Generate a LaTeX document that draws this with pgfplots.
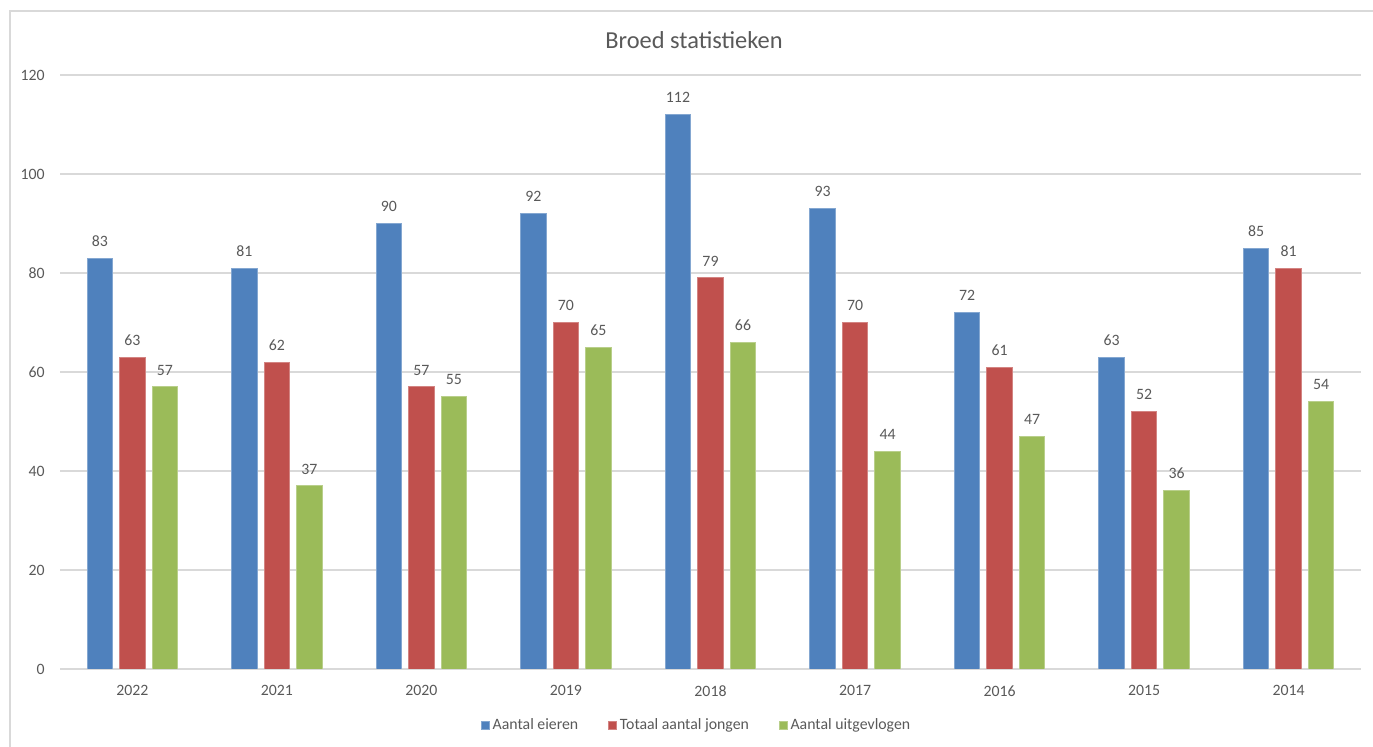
\documentclass[border=0pt]{standalone}
\usepackage{pgfplots}
\pgfplotsset{compat=1.18}
\usepackage{fontspec}
\setmainfont{Carlito}
\definecolor{cblue}{HTML}{4F81BD}
\definecolor{cred}{HTML}{C0504D}
\definecolor{cgreen}{HTML}{9BBB59}
\definecolor{txt}{HTML}{595959}
\definecolor{gridc}{HTML}{D9D9D9}
\pgfplotstableread{
x blue red green
0 83 63 57
1 81 62 37
2 90 57 55
3 92 70 65
4 112 79 66
5 93 70 44
6 72 61 47
7 63 52 36
8 85 81 54
}\datatable
\begin{document}
\begin{tikzpicture}
\path[use as bounding box] (0,0) rectangle (686.5bp,373.5bp);
\draw[gridc, line width=0.75bp] (5bp,-2bp) -- (5bp,368bp) -- (690bp,368bp);
\node[text=txt, font=\fontsize{12.2bp}{14bp}\selectfont] at (347bp,353.5bp) {Broed statistieken};
\begin{axis}[
  at={(30bp,39bp)}, anchor=south west,
  scale only axis, width=650.5bp, height=297bp,
  ybar=3.5bp, bar width=12.75bp,
  xmin=-0.5, xmax=8.5, ymin=0, ymax=120,
  xtick=data, xticklabels={2022,2021,2020,2019,2018,2017,2016,2015,2014},
  ytick={0,20,...,120},
  ymajorgrids, major grid style={gridc, line width=0.6bp},
  axis line style={draw=none},
  tick style={draw=none}, major tick length=0pt,
  ticklabel style={font=\fontsize{7.9bp}{9bp}\selectfont, text=txt, inner sep=0pt},
  yticklabel style={anchor=east, xshift=-7.5bp},
  xticklabel style={anchor=north, yshift=-8bp},
  /pgf/number format/assume math mode=true,
  nodes near coords,
  every node near coord/.append style={font=\fontsize{7.9bp}{9bp}\selectfont, text=txt, inner sep=0pt, anchor=south, yshift=5.6bp},
  legend style={at={(0.4896,-0.0943)}, anchor=center, draw=none, fill=none,
    legend columns=3, font=\fontsize{7.9bp}{9bp}\selectfont, text=txt,
    /tikz/every even column/.append style={column sep=13.5bp},
    nodes={inner sep=1.4bp}},
  legend image code/.code={\fill[#1] (0bp,-2bp) rectangle (4bp,2bp);},
]
\addplot[fill=cblue, draw=cblue!70!white, line width=0.5bp] table[x=x,y=blue] {\datatable};
\addplot[fill=cred, draw=cred!70!white, line width=0.5bp] table[x=x,y=red] {\datatable};
\addplot[fill=cgreen, draw=cgreen!70!white, line width=0.5bp] table[x=x,y=green] {\datatable};
\legend{Aantal eieren, Totaal aantal jongen, Aantal uitgevlogen}
\end{axis}
\end{tikzpicture}
\end{document}
